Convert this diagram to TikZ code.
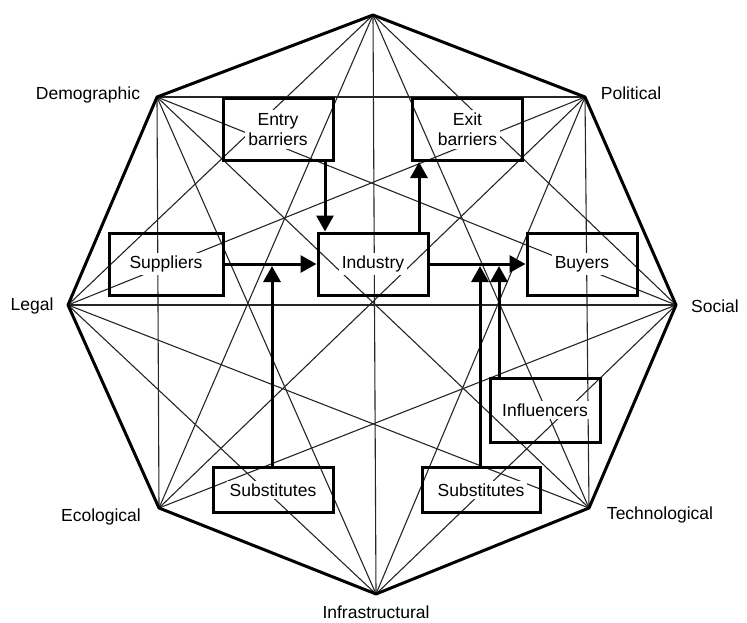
\documentclass[tikz,border=0pt]{standalone}
\usepackage{fontspec}
\setmainfont{Liberation Sans}
\usetikzlibrary{arrows.meta}
\begin{document}
\begin{tikzpicture}[x=1pt,y=-1pt,
  thinline/.style={line width=1.1pt, black!85},
  octa/.style={line width=3pt, line join=round},
  box/.style={draw, line width=3pt, inner sep=0pt},
  txt/.style={fill=white, inner sep=3pt, align=center, font=\fontsize{17.5}{20}\selectfont},
  vlab/.style={inner sep=0pt, font=\fontsize{17.5}{20}\selectfont},
  arr/.style={line width=3pt, -{Triangle[width=17pt,length=16pt]}},
]
\useasboundingbox (0,0) rectangle (747,622);
% octagon vertices
\coordinate (T) at (373,15);
\coordinate (P) at (585,97);
\coordinate (S) at (676,305);
\coordinate (Te) at (589,508);
\coordinate (I) at (376,594);
\coordinate (E) at (159,508);
\coordinate (L) at (68,305);
\coordinate (D) at (157,97);
% thin interconnections
\foreach \a/\b in {T/S,P/Te,S/I,E/D,I/L,L/T,D/P,T/Te,P/I,S/E,Te/L,I/D,E/T,L/P,D/S,T/I,P/E,S/L,Te/D}
  \draw[thinline] (\a) -- (\b);
% octagon outline
\draw[octa] (T) -- (P) -- (S) -- (Te) -- (I) -- (E) -- (L) -- (D) -- cycle;
% boxes
\node[box, minimum width=110pt, minimum height=62pt] (entry) at (278,129.5) {};
\node[box, minimum width=110pt, minimum height=62pt] (exit) at (467.5,129.5) {};
\node[box, minimum width=114pt, minimum height=62pt] (sup) at (166,264) {};
\node[box, minimum width=110pt, minimum height=62pt] (ind) at (373,264) {};
\node[box, minimum width=110pt, minimum height=62pt] (buy) at (582,264) {};
\node[box, minimum width=110pt, minimum height=64pt] (infl) at (545,410) {};
\node[box, minimum width=120pt, minimum height=45pt] (subL) at (273,490) {};
\node[box, minimum width=118pt, minimum height=45pt] (subR) at (481,490) {};
% junction points on the horizontal arrows
\coordinate (jL) at (272,266);
\coordinate (jR1) at (480,266);
\coordinate (jR2) at (499,266);
% arrows
\draw[arr] ([xshift=47pt]entry.south) -- ([xshift=47pt]entry.south |- ind.north);
\draw[arr] ([xshift=46pt]ind.north) -- ([xshift=46pt]ind.north |- exit.south);
\draw[arr] (sup) -- (ind);
\draw[arr] (ind) -- (buy);
\draw[arr] (subL.north -| jL) -- (jL);
\draw[arr] (subR.north -| jR1) -- (jR1);
\draw[arr] (infl.north -| jR2) -- (jR2);
% box texts
\node[txt] (entryT) at (entry) {Entry\\barriers};
\node[txt] (exitT) at (exit) {Exit\\barriers};
\node[txt] (supT) at (sup) {Suppliers};
\node[txt] (indT) at (ind) {Industry};
\node[txt] (buyT) at (buy) {Buyers};
\node[txt] (inflT) at (infl) {Influencers};
\node[txt] (subLT) at (subL) {Substitutes};
\node[txt] (subRT) at (subR) {Substitutes};
% vertex labels
\node[vlab] (Dl) at (88,95) {Demographic};
\node[vlab] (Pl) at (631,93) {Political};
\node[vlab] (Ll) at (32,306) {Legal};
\node[vlab] (Sl) at (715,306) {Social};
\node[vlab] (El) at (101,517) {Ecological};
\node[vlab] (Tel) at (660,515) {Technological};
\node[vlab] (Il) at (376,612) {Infrastructural};
\end{tikzpicture}
\end{document}
